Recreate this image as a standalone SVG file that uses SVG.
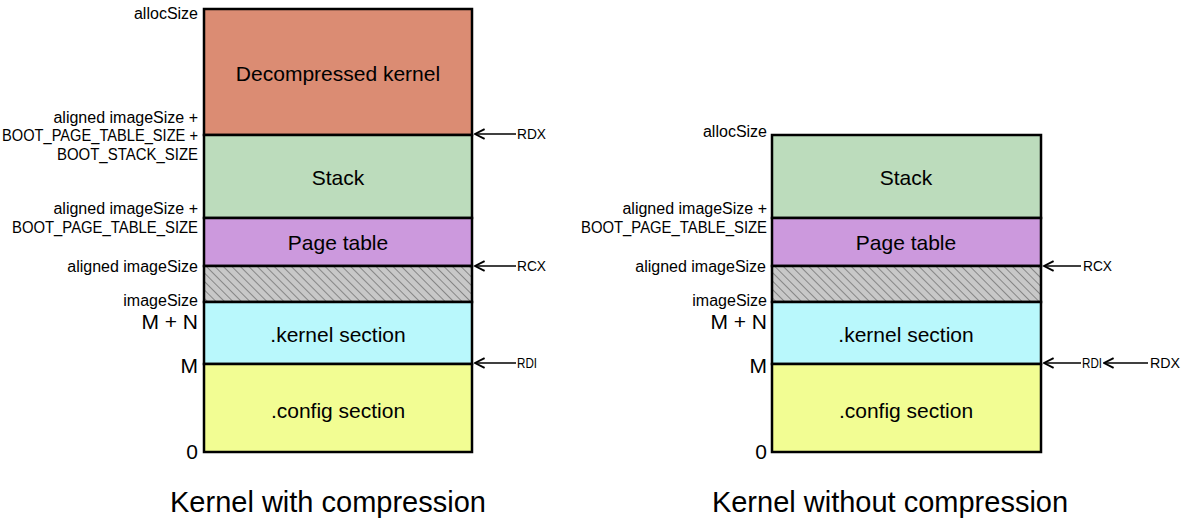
<svg xmlns="http://www.w3.org/2000/svg" width="1183" height="520" viewBox="0 0 1183 520">
<style>
text{font-family:"Liberation Sans",Arial,sans-serif;fill:#000}
.lbl{font-size:16px;text-anchor:end;dominant-baseline:central}
.big{font-size:21px;text-anchor:end;dominant-baseline:central}
.seg{font-size:21px;text-anchor:middle;dominant-baseline:central}
.reg{font-size:14.5px;dominant-baseline:central}
.title{font-size:29px;text-anchor:middle}
.blk{stroke:#000;stroke-width:2.5}
.arr{stroke:#000;stroke-width:1.6;fill:none;marker-end:url(#ah)}
</style>
<defs>
<marker id="ah" markerUnits="userSpaceOnUse" markerWidth="12" markerHeight="12" viewBox="0 0 10 10" refX="9" refY="5" orient="auto">
<path d="M1,1 L9,5 L1,9" fill="none" stroke="#000" stroke-width="1.6"/>
</marker>
<pattern id="hatch" patternUnits="userSpaceOnUse" width="6" height="6" patternTransform="rotate(45)">
<rect width="6" height="6" fill="#c8c8c8"/>
<line x1="0" y1="0" x2="6" y2="0" stroke="#444" stroke-width="1"/>
</pattern>
</defs>
<rect width="1183" height="520" fill="#fff"/>

<!-- Left column -->
<g id="left-decompressed"><rect x="204" y="9" width="268" height="126" fill="#db8c73" class="blk"/><text class="seg" x="338" y="73">Decompressed kernel</text></g>
<g id="left-stack"><rect x="204" y="135" width="268" height="83" fill="#bcdcbc" class="blk"/><text class="seg" x="338" y="177">Stack</text></g>
<g id="left-pagetable"><rect x="204" y="218" width="268" height="48" fill="#cc99dd" class="blk"/><text class="seg" x="338" y="242">Page table</text></g>
<g id="left-pad"><rect x="204" y="266" width="268" height="36" fill="url(#hatch)" class="blk"/></g>
<g id="left-kernel"><rect x="204" y="302" width="268" height="62" fill="#b9f8fc" class="blk"/><text class="seg" x="338" y="334">.kernel section</text></g>
<g id="left-config"><rect x="204" y="364" width="268" height="88" fill="#f2fd93" class="blk"/><text class="seg" x="338" y="410">.config section</text></g>
<g id="left-labels">
<text class="lbl" x="198" y="13">allocSize</text>
<text class="lbl" x="198" y="117">aligned imageSize +</text>
<text class="lbl" x="198" y="135" textLength="196" lengthAdjust="spacingAndGlyphs">BOOT_PAGE_TABLE_SIZE +</text>
<text class="lbl" x="198" y="154" textLength="141" lengthAdjust="spacingAndGlyphs">BOOT_STACK_SIZE</text>
<text class="lbl" x="198" y="208">aligned imageSize +</text>
<text class="lbl" x="198" y="227" textLength="186" lengthAdjust="spacingAndGlyphs">BOOT_PAGE_TABLE_SIZE</text>
<text class="lbl" x="198" y="266">aligned imageSize</text>
<text class="lbl" x="198" y="300">imageSize</text>
<text class="big" x="198" y="321">M + N</text>
<text class="big" x="198" y="365">M</text>
<text class="big" x="198" y="451">0</text>
</g>
<g id="left-title"><text class="title" x="328" y="512">Kernel with compression</text></g>

<!-- Right column -->
<g id="right-stack"><rect x="772" y="135" width="269" height="83" fill="#bcdcbc" class="blk"/><text class="seg" x="906" y="177">Stack</text></g>
<g id="right-pagetable"><rect x="772" y="218" width="269" height="48" fill="#cc99dd" class="blk"/><text class="seg" x="906" y="242">Page table</text></g>
<g id="right-pad"><rect x="772" y="266" width="269" height="36" fill="url(#hatch)" class="blk"/></g>
<g id="right-kernel"><rect x="772" y="302" width="269" height="62" fill="#b9f8fc" class="blk"/><text class="seg" x="906" y="334">.kernel section</text></g>
<g id="right-config"><rect x="772" y="364" width="269" height="88" fill="#f2fd93" class="blk"/><text class="seg" x="906" y="410">.config section</text></g>
<g id="right-labels">
<text class="lbl" x="767" y="131">allocSize</text>
<text class="lbl" x="767" y="208">aligned imageSize +</text>
<text class="lbl" x="767" y="227" textLength="186" lengthAdjust="spacingAndGlyphs">BOOT_PAGE_TABLE_SIZE</text>
<text class="lbl" x="766" y="266">aligned imageSize</text>
<text class="lbl" x="767" y="300">imageSize</text>
<text class="big" x="767" y="321">M + N</text>
<text class="big" x="767" y="365">M</text>
<text class="big" x="767" y="451">0</text>
</g>
<g id="right-title"><text class="title" x="890" y="512">Kernel without compression</text></g>

<!-- Connectors -->
<g id="connectors">
<line class="arr" x1="516" y1="134" x2="475" y2="134"/>
<line class="arr" x1="516" y1="266" x2="475" y2="266"/>
<line class="arr" x1="516" y1="363" x2="475" y2="363"/>
<line class="arr" x1="1081" y1="266" x2="1044" y2="266"/>
<line class="arr" x1="1081" y1="363" x2="1044" y2="363"/>
<line class="arr" x1="1148" y1="363" x2="1104" y2="363"/>
</g>
<g id="register-labels">
<text class="reg" x="517" y="134" textLength="29" lengthAdjust="spacingAndGlyphs">RDX</text>
<text class="reg" x="517" y="266" textLength="29" lengthAdjust="spacingAndGlyphs">RCX</text>
<text class="reg" x="517" y="363" textLength="20" lengthAdjust="spacingAndGlyphs">RDI</text>
<text class="reg" x="1083" y="266" textLength="29" lengthAdjust="spacingAndGlyphs">RCX</text>
<text class="reg" x="1082" y="363" textLength="20" lengthAdjust="spacingAndGlyphs">RDI</text>
<text class="reg" x="1150" y="363" textLength="30" lengthAdjust="spacingAndGlyphs">RDX</text>
</g>
</svg>
